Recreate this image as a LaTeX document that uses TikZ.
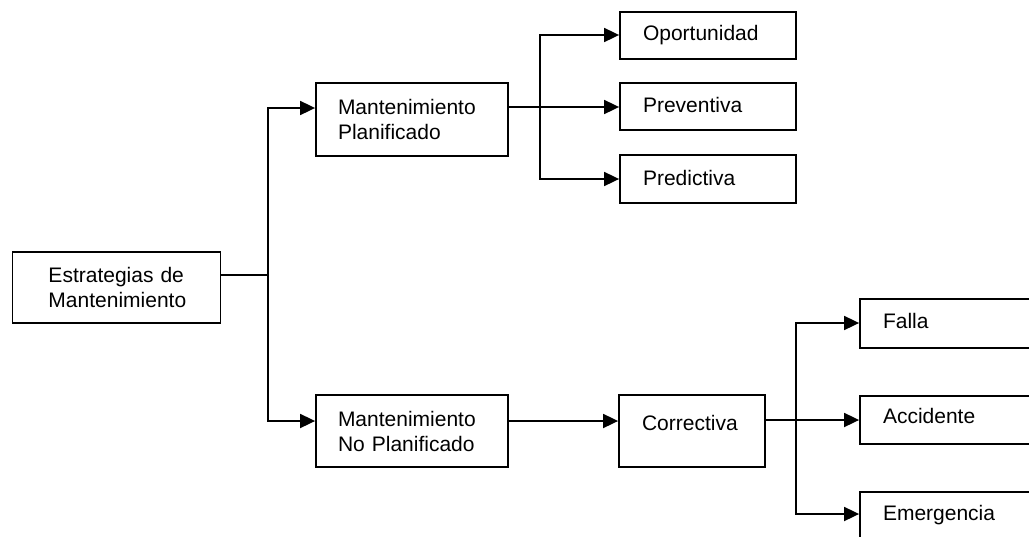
\documentclass[tikz,border=0pt]{standalone}
\usepackage{fontspec}
\setmainfont{Liberation Sans}
\usetikzlibrary{arrows.meta}
\begin{document}
\begin{tikzpicture}[x=1pt,y=-1pt,
  line width=1.8pt,
  box/.style={draw, rectangle, align=left, inner xsep=23pt, inner ysep=0pt,
    font=\fontsize{21pt}{25pt}\selectfont},
  one/.style={text height=15pt, text depth=#1},
  arr/.style={-{Triangle[length=15pt,width=14pt]}}]
\clip (0,0) rectangle (1029,536);
\fill[white] (0,0) rectangle (1029,536);
% nodes
\node[box, inner xsep=36pt, text width=136pt, minimum height=71pt] (estr) at (116.5,287.5) {Estrategias de\\Mantenimiento};
\node[box, inner xsep=22pt, text width=148pt, minimum height=73pt] (mp) at (412,119.5) {Mantenimiento\\Planificado};
\node[box, inner xsep=22pt, text width=148pt, minimum height=72pt] (mnp) at (412,431) {Mantenimiento\\No Planificado};
\node[box, one=17pt, text width=100pt, minimum height=72pt] (corr) at (692,431) {Correctiva};
\node[box, one=6pt, text width=130pt, minimum height=47pt] (op) at (708,35.5) {Oportunidad};
\node[box, one=3pt, text width=130pt, minimum height=47pt] (prev) at (708,106.5) {Preventiva};
\node[box, one=3pt, text width=130pt, minimum height=48pt] (pred) at (708,179) {Predictiva};
\node[box, one=6pt, text width=144pt, minimum height=49pt] (falla) at (955,323.5) {Falla};
\node[box, one=9pt, text width=144pt, minimum height=48pt] (acc) at (955,420) {Accidente};
\node[box, one=7pt, text width=144pt, minimum height=48pt] (emer) at (955,516) {Emergencia};
% junction coordinates
\coordinate (j1) at (268,275);
\coordinate (j1a) at (268,108);
\coordinate (j1b) at (268,421);
\coordinate (j2) at (540,107);
\coordinate (j2a) at (540,35);
\coordinate (j2c) at (540,179);
\coordinate (j3) at (796,420);
\coordinate (j3a) at (796,323);
\coordinate (j3c) at (796,514);
% connectors
\draw (estr.east |- j1) -- (j1);
\draw[arr] (j1) -- (j1a) -- (mp.west |- j1a);
\draw[arr] (j1) -- (j1b) -- (mnp.west |- j1b);
\draw[arr] (mnp.east |- j1b) -- (corr.west |- j1b);
\draw[arr] (mp.east |- j2) -- (prev.west |- j2);
\draw[arr] (j2) -- (j2a) -- (op.west |- j2a);
\draw[arr] (j2) -- (j2c) -- (pred.west |- j2c);
\draw[arr] (corr.east |- j3) -- (acc.west |- j3);
\draw[arr] (j3) -- (j3a) -- (falla.west |- j3a);
\draw[arr] (j3) -- (j3c) -- (emer.west |- j3c);
\end{tikzpicture}
\end{document}
